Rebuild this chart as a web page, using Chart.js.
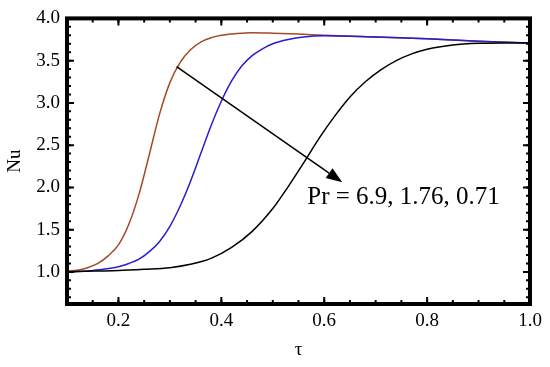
<!DOCTYPE html>
<html>
<head>
<meta charset="utf-8">
<script src="https://cdn.jsdelivr.net/npm/chart.js@4.4.1/dist/chart.umd.min.js"></script>
<style>
    html, body { margin: 0; padding: 0; background: #fff; }
    #wrap { width: 550px; height: 367px; }
</style>
</head>
<body>
<div id="wrap"><canvas id="nu-chart"></canvas></div>
<script>
// --- Data ---
const tauPr69 = [0.10, 0.12, 0.14, 0.16, 0.18, 0.20, 0.22, 0.24, 0.26, 0.28, 0.30, 0.32, 0.34, 0.36, 0.38, 0.40, 0.43, 0.46, 0.50, 0.55, 0.60, 0.70, 0.80, 0.90, 1.00];
const nuPr69  = [1.01, 1.02, 1.05, 1.10, 1.19, 1.32, 1.56, 1.92, 2.39, 2.87, 3.24, 3.48, 3.63, 3.72, 3.77, 3.80, 3.82, 3.83, 3.825, 3.815, 3.80, 3.78, 3.76, 3.73, 3.71];

const tauPr176 = [0.10, 0.14, 0.18, 0.20, 0.22, 0.24, 0.26, 0.28, 0.30, 0.32, 0.34, 0.36, 0.38, 0.40, 0.42, 0.44, 0.46, 0.48, 0.50, 0.53, 0.56, 0.60, 0.70, 0.80, 0.90, 1.00];
const nuPr176  = [1.00, 1.01, 1.04, 1.06, 1.10, 1.15, 1.24, 1.36, 1.54, 1.78, 2.07, 2.40, 2.73, 3.02, 3.26, 3.44, 3.56, 3.64, 3.70, 3.75, 3.78, 3.795, 3.78, 3.76, 3.73, 3.71];

const tauPr071 = [0.10, 0.15, 0.20, 0.25, 0.30, 0.34, 0.38, 0.42, 0.46, 0.50, 0.53, 0.56, 0.59, 0.62, 0.65, 0.68, 0.71, 0.74, 0.77, 0.80, 0.85, 0.90, 0.95, 1.00];
const nuPr071  = [1.00, 1.01, 1.015, 1.03, 1.05, 1.09, 1.16, 1.29, 1.48, 1.75, 2.01, 2.29, 2.58, 2.84, 3.07, 3.25, 3.39, 3.50, 3.58, 3.635, 3.685, 3.705, 3.71, 3.71];

const xTicks = [0.2, 0.4, 0.6, 0.8, 1.0];
const yTicks = [1.0, 1.5, 2.0, 2.5, 3.0, 3.5, 4.0];

const arrowFrom = [0.313, 3.43];
const arrowTo = [0.635, 2.06];
const noteText = 'Pr = 6.9, 1.76, 0.71';
const notePos = [0.567, 1.88];

const SERIF = '"Liberation Serif", "DejaVu Serif", serif';

const toPoints = (xs, ys) => xs.map((x, i) => ({ x, y: ys[i] }));

// --- Frame, inward ticks, arrow and note ---
const framePlugin = {
    id: 'frame',
    afterDatasetsDraw(chart) {
        const { ctx, chartArea: a, scales: { x, y } } = chart;
        ctx.save();
        ctx.strokeStyle = '#000';

        // ticks on all four sides
        ctx.lineWidth = 2;
        const tickX = (v, len) => {
            const px = x.getPixelForValue(v);
            ctx.beginPath();
            ctx.moveTo(px, a.bottom); ctx.lineTo(px, a.bottom - len);
            ctx.moveTo(px, a.top); ctx.lineTo(px, a.top + len);
            ctx.stroke();
        };
        const tickY = (v, len) => {
            const py = y.getPixelForValue(v);
            ctx.beginPath();
            ctx.moveTo(a.left, py); ctx.lineTo(a.left + len, py);
            ctx.moveTo(a.right, py); ctx.lineTo(a.right - len, py);
            ctx.stroke();
        };
        for (let v = 0.1; v <= 1.0001; v += 0.05) tickX(v, 4);
        xTicks.forEach(v => tickX(v, 7));
        for (let v = 0.7; v <= 4.0001; v += 0.1) tickY(v, 4);
        yTicks.forEach(v => tickY(v, 7));

        // frame
        ctx.lineWidth = 4;
        ctx.strokeRect(a.left, a.top, a.right - a.left, a.bottom - a.top);

        // arrow
        const x0 = x.getPixelForValue(arrowFrom[0]), y0 = y.getPixelForValue(arrowFrom[1]);
        const x1 = x.getPixelForValue(arrowTo[0]), y1 = y.getPixelForValue(arrowTo[1]);
        const ang = Math.atan2(y1 - y0, x1 - x0);
        const headLen = 16, headW = 6;
        const bx = x1 - headLen * Math.cos(ang), by = y1 - headLen * Math.sin(ang);
        ctx.lineWidth = 1.5;
        ctx.beginPath();
        ctx.moveTo(x0, y0); ctx.lineTo(bx, by);
        ctx.stroke();
        ctx.fillStyle = '#000';
        ctx.beginPath();
        ctx.moveTo(x1, y1);
        ctx.lineTo(bx + headW * Math.sin(ang), by - headW * Math.cos(ang));
        ctx.lineTo(bx - headW * Math.sin(ang), by + headW * Math.cos(ang));
        ctx.closePath();
        ctx.fill();

        // note
        ctx.font = '25px ' + SERIF;
        ctx.textAlign = 'left';
        ctx.textBaseline = 'middle';
        ctx.fillText(noteText, x.getPixelForValue(notePos[0]), y.getPixelForValue(notePos[1]));
        ctx.restore();
    }
};

const lineSet = (label, xs, ys, color) => ({
    label,
    data: toPoints(xs, ys),
    borderColor: color,
    borderWidth: 1.5,
    pointRadius: 0,
    fill: false,
    cubicInterpolationMode: 'monotone'
});

new Chart(document.getElementById('nu-chart'), {
    type: 'line',
    data: {
        datasets: [
            lineSet('Pr = 0.71', tauPr071, nuPr071, '#000000'),
            lineSet('Pr = 1.76', tauPr176, nuPr176, '#2a1ccf'),
            lineSet('Pr = 6.9', tauPr69, nuPr69, '#a44a22')
        ]
    },
    options: {
        responsive: true,
        maintainAspectRatio: false,
        animation: false,
        layout: { padding: { left: 0, right: 20, top: 17, bottom: 0 } },
        plugins: {
            legend: { display: false },
            tooltip: { enabled: false }
        },
        scales: {
            x: {
                type: 'linear',
                min: 0.1,
                max: 1.0,
                grid: { display: false, drawTicks: false },
                border: { display: false },
                afterBuildTicks: scale => { scale.ticks = xTicks.map(value => ({ value })); },
                afterFit: scale => { scale.height = 63; },
                ticks: {
                    padding: 6,
                    color: '#000',
                    font: { family: SERIF, size: 19 },
                    callback: v => v.toFixed(1)
                },
                title: {
                    display: true,
                    text: 'τ',
                    color: '#000',
                    font: { family: SERIF, size: 19 },
                    padding: { top: 0, bottom: 6 }
                }
            },
            y: {
                type: 'linear',
                min: 0.62,
                max: 4.0,
                grid: { display: false, drawTicks: false },
                border: { display: false },
                afterBuildTicks: scale => { scale.ticks = yTicks.map(value => ({ value })); },
                afterFit: scale => { scale.width = 67; },
                ticks: {
                    padding: 7,
                    color: '#000',
                    font: { family: SERIF, size: 19 },
                    callback: v => v.toFixed(1)
                },
                title: {
                    display: true,
                    text: 'Nu',
                    color: '#000',
                    font: { family: SERIF, size: 19 },
                    padding: { top: 4, bottom: 0 }
                }
            }
        }
    },
    plugins: [framePlugin]
});
</script>
</body>
</html>
